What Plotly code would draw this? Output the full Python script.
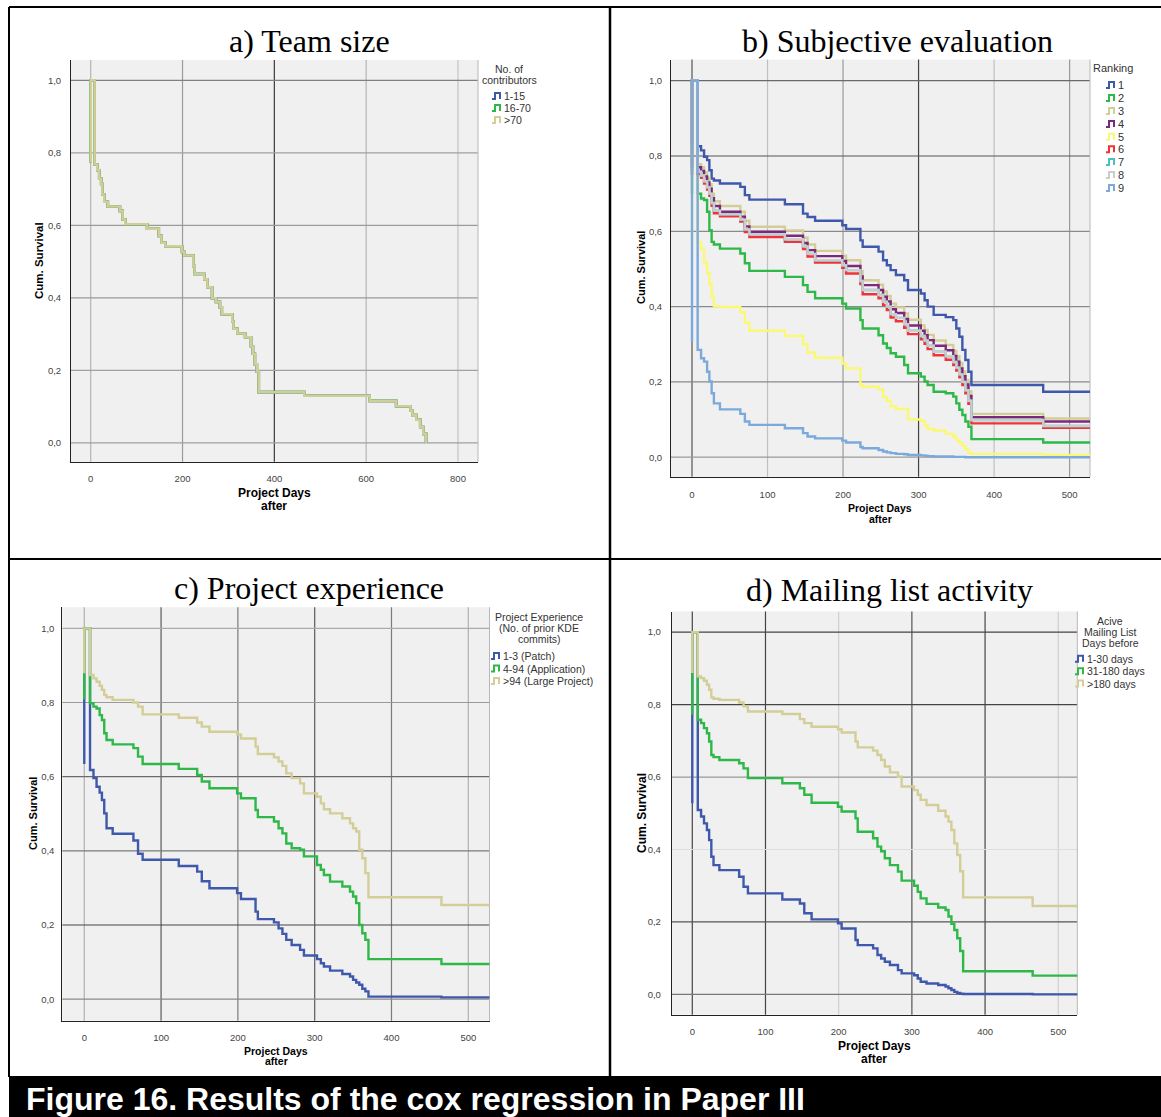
import plotly.graph_objects as go

W, H = 1161, 1117
SANS = "Liberation Sans, Arial, sans-serif"
SERIF = "Liberation Serif, Times New Roman, serif"

# ---------------- DATA ----------------
# a) Team size (three groups overlap completely)
team_groups = ["1-15", "16-70", ">70"]
team_times = [8.5, 14.4, 18.6, 22.9, 25.4, 29.7, 37.3, 63.6, 69.5, 75.4, 122.9, 148.3, 154.2,
              162.7, 199.0, 203.4, 223.7, 226.3, 247.5, 254.2, 264.4, 272.9, 281.4, 285.6,
              308.5, 311.0, 319.5, 336.4, 349.2, 353.4, 357.6, 361.9, 366.1, 465.3, 607.6,
              665.3, 696.6, 700.8, 709.3, 717.8, 724.6, 730.5]
team_start = 0.773
team_surv = [.768, .752, .729, .714, .685, .665, .652, .640, .616, .603, .591, .571, .552, .542,
             .527, .517, .488, .466, .451, .429, .399, .389, .374, .355, .335, .315, .302, .291,
             .266, .246, .217, .197, .140, .130, .116, .101, .089, .077, .064, .044, .025, .000]

# shared step times for panels b-d (days)
step_times = [7.5, 12, 16, 20, 23, 26, 29, 37, 64, 70, 76, 123, 147, 153, 163, 199, 204, 223,
              226, 247, 253, 258, 263, 270, 281, 286, 303, 308, 312, 320, 336, 346, 350, 354,
              358, 362, 366, 370, 465]
followup_end = 530

# b) Subjective evaluation (Ranking 1..9)
rank_labels = ["1", "2", "3", "4", "5", "6", "7", "8", "9"]
rank_start = [0.83, 0.70, 0.78, 0.77, 0.58, 0.75, 0.76, 0.76, 0.307]
rank1 = [.826, .815, .798, .789, .762, .740, .735, .727, .718, .696, .684, .672, .647, .638, .628,
         .616, .606, .576, .559, .546, .523, .510, .497, .484, .470, .444, .435, .417, .400, .378,
         .372, .364, .342, .320, .285, .258, .227, .192, .174]
rank2 = [.700, .687, .683, .652, .603, .572, .565, .554, .541, .515, .495, .479, .457, .439, .422,
         .408, .395, .364, .342, .324, .302, .290, .276, .267, .245, .223, .214, .201, .192, .174,
         .170, .161, .143, .126, .112, .095, .081, .048, .039]
rank3 = [.778, .770, .757, .742, .725, .700, .680, .667, .652, .628, .612, .602, .583, .565, .548,
         .535, .523, .495, .470, .458, .440, .428, .408, .398, .382, .365, .350, .338, .325, .310,
         .298, .283, .268, .250, .228, .205, .175, .115, .103]
rank4 = [.770, .760, .746, .730, .713, .688, .667, .652, .639, .613, .599, .588, .569, .550, .534,
         .521, .508, .480, .457, .444, .426, .414, .393, .383, .367, .350, .336, .324, .311, .296,
         .284, .269, .254, .236, .215, .193, .163, .106, .095]
rank5 = [.572, .552, .516, .490, .460, .427, .401, .399, .385, .357, .336, .322, .300, .278, .264,
         .249, .236, .192, .187, .180, .160, .150, .135, .128, .128, .100, .097, .085, .075, .071,
         .062, .055, .045, .038, .030, .020, .012, .009, .006]
rank6 = [.752, .742, .727, .711, .694, .668, .648, .640, .626, .598, .585, .572, .553, .533, .517,
         .503, .488, .460, .433, .422, .404, .391, .371, .361, .344, .327, .313, .301, .287, .271,
         .259, .245, .230, .212, .192, .170, .142, .090, .078]
rank7 = [.758, .748, .733, .717, .700, .675, .655, .645, .631, .605, .592, .579, .560, .540, .523,
         .510, .497, .468, .444, .431, .413, .400, .380, .370, .353, .336, .322, .310, .296, .280,
         .268, .253, .238, .220, .200, .178, .150, .099, .083]
rank8 = [.758, .748, .733, .717, .700, .675, .655, .645, .631, .605, .592, .579, .560, .540, .523,
         .510, .497, .468, .444, .431, .413, .400, .380, .370, .353, .336, .322, .310, .296, .280,
         .268, .253, .238, .220, .200, .178, .150, .099, .083]
rank9 = [.285, .263, .254, .227, .201, .170, .143, .127, .115, .095, .086, .077, .064, .055, .050,
         .044, .039, .027, .024, .019, .015, .013, .011, .009, .008, .006, .005, .004, .003, .002,
         .002, .001, .001, .001, .001, .000, .000, .000, .000]

# c) Project experience
exp_labels = ["1-3 (Patch)", "4-94 (Application)", ">94 (Large Project)"]
exp_start = [0.634, 0.809, 0.879]
exp_patch = [.618, .596, .573, .557, .537, .501, .461, .446, .428, .392, .376, .359, .344, .318,
             .299, .286, .270, .236, .216, .207, .191, .176, .160, .146, .133, .118, .108, .097,
             .088, .077, .068, .061, .052, .045, .039, .028, .021, .007, .005]
exp_app = [.798, .789, .784, .766, .753, .717, .699, .687, .677, .654, .634, .621, .605, .587,
           .569, .555, .542, .510, .491, .479, .461, .447, .420, .407, .403, .385, .362, .349,
           .335, .317, .304, .290, .277, .259, .200, .178, .160, .108, .095]
exp_large = [.874, .865, .856, .845, .834, .820, .814, .807, .800, .789, .768, .759, .746, .735,
             .721, .714, .703, .681, .661, .652, .641, .629, .609, .596, .582, .555, .546, .528,
             .512, .501, .488, .474, .461, .452, .403, .380, .340, .275, .254]

# d) Mailing list activity
mail_labels = ["1-30 days", "31-180 days", ">180 days"]
mail_start = [0.528, 0.772, 0.887]
mail_short = [.509, .491, .472, .454, .426, .380, .357, .343, .325, .297, .279, .262, .251, .224,
              .207, .196, .182, .150, .136, .127, .109, .099, .090, .081, .067, .058, .053, .044,
              .035, .030, .026, .022, .017, .012, .007, .004, .002, .001, .000]
mail_mid = [.758, .749, .735, .721, .698, .661, .655, .647, .638, .624, .597, .583, .569, .551,
            .529, .518, .505, .486, .449, .431, .408, .395, .376, .357, .339, .314, .300, .283,
            .265, .250, .240, .233, .215, .195, .178, .155, .120, .064, .052]
mail_long = [.878, .873, .866, .855, .841, .820, .816, .813, .806, .795, .781, .774, .760, .749,
             .739, .732, .723, .698, .682, .673, .661, .647, .629, .613, .601, .574, .564, .551,
             .537, .523, .507, .491, .477, .454, .417, .385, .340, .268, .244]

y_ticks = [0, 0.2, 0.4, 0.6, 0.8, 1.0]
y_ticktext = ["0,0", "0,2", "0,4", "0,6", "0,8", "1,0"]
x_ticks_a = [0, 200, 400, 600, 800]
x_ticks = [0, 100, 200, 300, 400, 500]

# ---------------- STYLE ----------------
BLUE, GREEN, TAN = "#3e58ac", "#2eb848", "#d3ce97"
RANK_COLORS = ["#3e58ac", "#2eb848", "#d3ce97", "#7c287d", "#fbf873",
               "#ef3338", "#48c2c5", "#cccccc", "#7ba9dc"]
GROUP3 = [BLUE, GREEN, TAN]
LW = 2.4


def px(x):
    return x / W


def py(y):
    return 1 - y / H


def km_xy(start, times, surv, end=None):
    xs = [0, 0] + list(times)
    ys = [start, 1.0] + list(surv)
    if end is not None:
        xs.append(end)
        ys.append(surv[-1])
    return xs, ys


fig = go.Figure()

# panel a
for name, col in zip(team_groups, GROUP3):
    xs, ys = km_xy(team_start, team_times, team_surv)
    fig.add_trace(go.Scatter(x=xs, y=ys, mode="lines", line=dict(color=col, width=2.6, shape="hv"),
                             name=name, xaxis="x", yaxis="y", showlegend=False))
# panel b
rank_series = [rank1, rank2, rank3, rank4, rank5, rank6, rank7, rank8, rank9]
for name, s0, sv, col in zip(rank_labels, rank_start, rank_series, RANK_COLORS):
    xs, ys = km_xy(s0, step_times, sv, followup_end)
    fig.add_trace(go.Scatter(x=xs, y=ys, mode="lines", line=dict(color=col, width=LW, shape="hv"),
                             name=name, xaxis="x2", yaxis="y2", showlegend=False))
# panel c
for name, s0, sv, col in zip(exp_labels, exp_start, [exp_patch, exp_app, exp_large], GROUP3):
    xs, ys = km_xy(s0, step_times, sv, followup_end)
    fig.add_trace(go.Scatter(x=xs, y=ys, mode="lines", line=dict(color=col, width=LW, shape="hv"),
                             name=name, xaxis="x3", yaxis="y3", showlegend=False))
# panel d
for name, s0, sv, col in zip(mail_labels, mail_start, [mail_short, mail_mid, mail_long], GROUP3):
    xs, ys = km_xy(s0, step_times, sv, followup_end)
    fig.add_trace(go.Scatter(x=xs, y=ys, mode="lines", line=dict(color=col, width=LW, shape="hv"),
                             name=name, xaxis="x4", yaxis="y4", showlegend=False))

panels = {
    # key: (xdomain px, ydomain px (top,bottom), xrange, yrange, xticks, standoff_x, standoff_y)
    "1": ((71, 478), (60, 461.8), (-42.9, 843.6), (-0.052, 1.056), x_ticks_a, 8, 7),
    "2": ((671, 1090), (59.6, 476.8), (-27.8, 527), (-0.052, 1.056), x_ticks, 9, 6),
    "3": ((62.3, 489.5), (607.2, 1020.7), (-28.6, 527.6), (-0.058, 1.057), x_ticks, 8, 5),
    "4": ((671.8, 1077.3), (611.5, 1014.7), (-28, 526), (-0.056, 1.057), x_ticks, 8, 8),
}
tickfont = dict(family=SANS, size=9.5, color="#444")
layout_axes = {}
for k, (xd, yd, xr, yr, xt, sx, sy) in panels.items():
    sfx = "" if k == "1" else k
    layout_axes["xaxis" + sfx] = dict(
        domain=[px(xd[0]), px(xd[1])], range=list(xr), anchor="y" + sfx, showgrid=False,
        zeroline=False, showline=True, linecolor="#222", linewidth=1, tickvals=xt,
        tickfont=tickfont, ticks="", ticklabelstandoff=sx, fixedrange=True)
    layout_axes["yaxis" + sfx] = dict(
        domain=[py(yd[1]), py(yd[0])], range=list(yr), anchor="x" + sfx, showgrid=False,
        zeroline=False, showline=True, linecolor="#222", linewidth=1, tickvals=y_ticks,
        ticktext=y_ticktext, tickfont=tickfont, ticks="", ticklabelstandoff=sy, fixedrange=True)

shapes = []
grid_cols = {
    "1": (["#b4b4b4", "#9a9a9a", "#3a3a3a", "#b4b4b4", "#c4c4c4"],
          ["#a0a0a0", "#a0a0a0", "#9a9a9a", "#9a9a9a", "#a0a0a0", "#808080"]),
    "2": (["#555555", "#c0c0c0", "#9a9a9a", "#444444", "#c0c0c0", "#9a9a9a"],
          ["#9a9a9a", "#8a8a8a", "#8a8a8a", "#8a8a8a", "#555555", "#6a6a6a"]),
    "3": (["#b0b0b0", "#5a5a5a", "#7a7a7a", "#5a5a5a", "#7a7a7a", "#b0b0b0"],
          ["#8a8a8a", "#444444", "#7a7a7a", "#6a6a6a", "#9a9a9a", "#aaaaaa"]),
    "4": (["#444444", "#444444", "#d0d0d0", "#555555", "#444444", "#d0d0d0"],
          ["#777777", "#555555", "#dddddd", "#999999", "#444444", "#444444"]),
}
for k, (xd, yd, xr, yr, xt, sx, sy) in panels.items():
    sfx = "" if k == "1" else k
    xc, yc = grid_cols[k]
    for v, c in zip(xt, xc):
        shapes.append(dict(type="line", xref="x" + sfx, yref="y" + sfx + " domain", x0=v, x1=v,
                           y0=0, y1=1, line=dict(color=c, width=1.2), layer="below"))
    for v, c in zip(y_ticks, yc):
        shapes.append(dict(type="line", xref="x" + sfx + " domain", yref="y" + sfx, x0=0, x1=1,
                           y0=v, y1=v, line=dict(color=c, width=1.2), layer="below"))
    # thin light right edge of the plot area
    shapes.append(dict(type="line", xref="x" + sfx + " domain", yref="y" + sfx + " domain",
                       x0=1, x1=1, y0=0, y1=1, line=dict(color="#b8b8b8", width=1), layer="below"))


# frame lines
def pline(x0, y0, x1, y1, w=2, c="#000"):
    shapes.append(dict(type="line", xref="paper", yref="paper", x0=px(x0), x1=px(x1),
                       y0=py(y0), y1=py(y1), line=dict(color=c, width=w)))


pline(9, 7, 1161, 7)
pline(9, 7, 9, 1077)
pline(610, 7, 610, 1077, 2.5)
pline(9, 559, 1161, 559)
shapes.append(dict(type="rect", xref="paper", yref="paper", x0=px(9), x1=px(1161),
                   y0=py(1117), y1=py(1076), fillcolor="#000", line=dict(width=0)))

annotations = []


def ann(text, x, y, size, color="#000", family=SANS, xanchor="center", yanchor="middle", angle=0):
    annotations.append(dict(text=text, x=px(x), y=py(y), xref="paper", yref="paper",
                            showarrow=False, font=dict(family=family, size=size, color=color),
                            xanchor=xanchor, yanchor=yanchor, textangle=angle))


# titles
ann("a) Team size", 309, 41, 32, family=SERIF)
ann("b) Subjective evaluation", 897, 41, 32, family=SERIF)
ann("c) Project experience", 309, 588, 32, family=SERIF)
ann("d) Mailing list activity", 889, 590, 32, family=SERIF)

# axis titles
ann("<b>Cum. Survival</b>", 39, 261, 11.5, angle=-90)
ann("<b>Project Days</b>", 274, 493, 12)
ann("<b>after</b>", 274, 506, 12)
ann("<b>Cum. Survival</b>", 641, 268, 11, angle=-90)
ann("<b>Project Days</b>", 880, 508, 10.5)
ann("<b>after</b>", 880, 519, 10.5)
ann("<b>Cum. Survival</b>", 33, 814, 11, angle=-90)
ann("<b>Project Days</b>", 276, 1050.5, 10.5)
ann("<b>after</b>", 276, 1061, 10.5)
ann("<b>Cum. Survival</b>", 642, 813, 12, angle=-90)
ann("<b>Project Days</b>", 874, 1045.5, 12)
ann("<b>after</b>", 874, 1058.5, 12)

# caption
ann("<b>Figure 16. Results of the cox regression in Paper III</b>", 24, 1099, 32,
    color="#fff", xanchor="left")

LEG_C = "#333"


def legend(title_lines, title_x, title_ys, labels, colors, icon_x, item_ys, size):
    for t, yy in zip(title_lines, title_ys):
        ann(t, title_x, yy, size, color=LEG_C)
    for lab, col, yy in zip(labels, colors, item_ys):
        x0 = icon_x
        path = (f"M {px(x0)} {py(yy + 3)} L {px(x0 + 3)} {py(yy + 3)} L {px(x0 + 3)} {py(yy - 3)} "
                f"L {px(x0 + 8)} {py(yy - 3)} L {px(x0 + 8)} {py(yy + 3)}")
        shapes.append(dict(type="path", xref="paper", yref="paper", path=path,
                           line=dict(color=col, width=2)))
        ann(lab, x0 + 9.5, yy, size, color=LEG_C, xanchor="left")


legend(["No. of", "contributors"], 509, [69, 80], team_groups, GROUP3, 492,
       [96, 108, 120], 10.5)
legend(["Ranking"], 1113, [68], rank_labels, RANK_COLORS, 1106,
       [85, 98, 111, 124, 136.8, 149.3, 162, 175, 188], 11)
legend(["Project Experience", "(No. of prior KDE", "commits)"], 539, [617, 628, 639],
       exp_labels, GROUP3, 491, [656, 668.5, 681], 10.5)
legend(["Acive", "Mailing List", "Days before"], 1110, [621, 632, 643], mail_labels, GROUP3,
       1075, [658.8, 671.2, 683.6], 10.5)

fig.update_layout(width=W, height=H, margin=dict(l=0, r=0, t=0, b=0),
                  paper_bgcolor="#fff", plot_bgcolor="#f0f0f0", showlegend=False,
                  shapes=shapes, annotations=annotations, **layout_axes)

fig.write_html("out.html", config={"displayModeBar": False},
               post_script="document.body.style.margin='0';document.body.style.overflow='hidden';")
